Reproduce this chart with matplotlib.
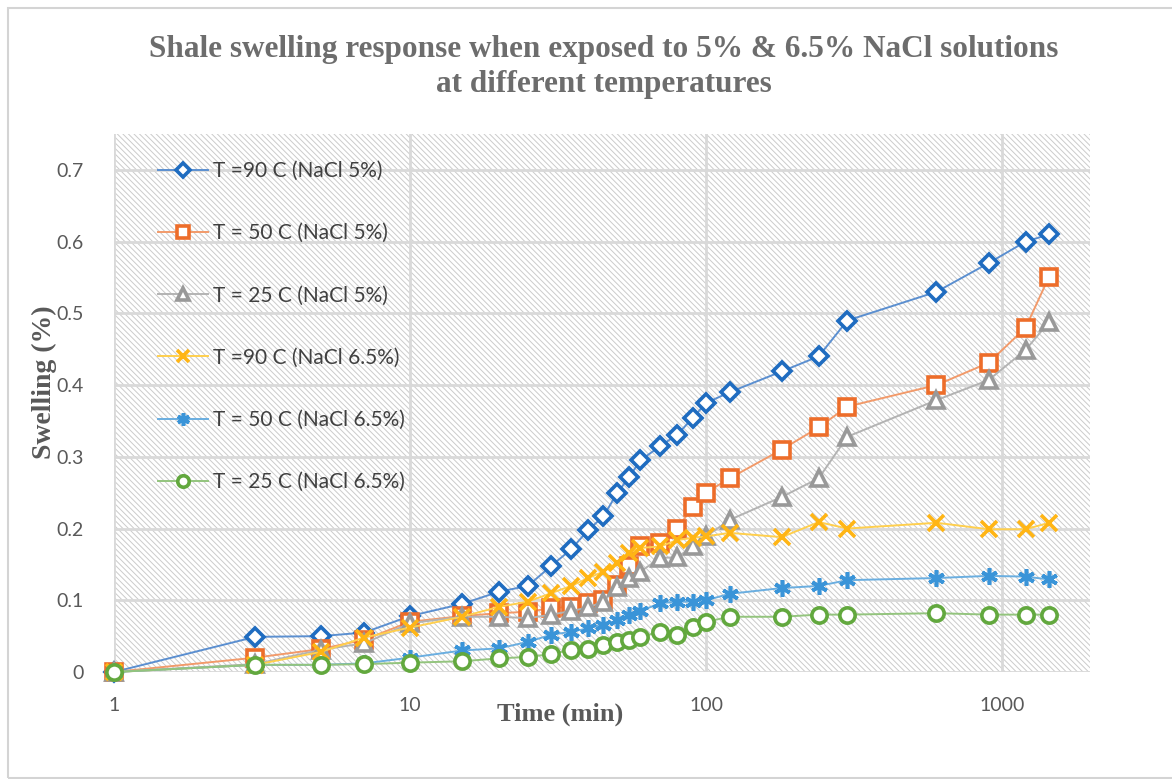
import matplotlib
matplotlib.use('Agg')
import matplotlib.pyplot as plt
from matplotlib.patches import Rectangle
import numpy as np

# sampling times (min)
time_min = [1, 3, 5, 7, 10, 15, 20, 25, 30, 35, 40, 45, 50, 55, 60, 70, 80, 90,
            100, 120, 180, 240, 300, 600, 900, 1200, 1440]

# swelling (%) for each temperature / brine
t90_nacl5 = [0, 0.049, 0.050, 0.055, 0.078, 0.095, 0.112, 0.120, 0.148, 0.171, 0.198,
             0.217, 0.249, 0.272, 0.295, 0.315, 0.331, 0.354, 0.375, 0.390, 0.419,
             0.440, 0.490, 0.530, 0.570, 0.600, 0.610]
t50_nacl5 = [0, 0.020, 0.032, 0.045, 0.070, 0.078, 0.082, 0.084, 0.089, 0.091, 0.096,
             0.100, 0.121, 0.148, 0.176, 0.180, 0.200, 0.230, 0.250, 0.270, 0.310,
             0.341, 0.370, 0.400, 0.431, 0.480, 0.551]
t25_nacl5 = [0, 0.011, 0.031, 0.040, 0.068, 0.077, 0.077, 0.075, 0.080, 0.085, 0.090,
             0.098, 0.119, 0.131, 0.140, 0.159, 0.160, 0.175, 0.189, 0.212, 0.244,
             0.270, 0.328, 0.379, 0.407, 0.449, 0.488]
t90_nacl65 = [0, 0.010, 0.028, 0.048, 0.062, 0.077, 0.091, 0.098, 0.110, 0.120, 0.131,
              0.140, 0.152, 0.166, 0.173, 0.175, 0.184, 0.187, 0.189, 0.194, 0.188,
              0.209, 0.200, 0.208, 0.199, 0.199, 0.208]
t50_nacl65 = [0, 0.010, 0.010, 0.012, 0.020, 0.030, 0.033, 0.042, 0.052, 0.056, 0.061,
              0.066, 0.072, 0.080, 0.085, 0.096, 0.098, 0.098, 0.100, 0.109, 0.117,
              0.120, 0.128, 0.131, 0.134, 0.133, 0.129]
t25_nacl65 = [0, 0.010, 0.010, 0.011, 0.013, 0.015, 0.019, 0.021, 0.025, 0.031, 0.032,
              0.038, 0.042, 0.044, 0.049, 0.056, 0.051, 0.063, 0.070, 0.077, 0.077,
              0.080, 0.080, 0.082, 0.080, 0.080, 0.080]

labels = ['T =90 C (NaCl 5%)', 'T = 50 C (NaCl 5%)', 'T = 25 C (NaCl 5%)',
          'T =90 C (NaCl 6.5%)', 'T = 50 C (NaCl 6.5%)', 'T = 25 C (NaCl 6.5%)']
series = [t90_nacl5, t50_nacl5, t25_nacl5, t90_nacl65, t50_nacl65, t25_nacl65]

# excel-like styling: line colour, marker colour, marker, size
styles = [
    ('#5b8fd0', '#1f6cc0', 'D', 9),
    ('#f29a6a', '#ed6d2a', 's', 11),
    ('#b3b3b3', '#999999', '^', 11),
    ('#ffcf4d', '#ffb515', 'x', 11),
    ('#6aaee0', '#3a94d8', (6, 2, 0), 12),
    ('#93c47d', '#62a83e', 'o', 11),
]

plt.rcParams['font.family'] = ['Lato', 'DejaVu Sans']
plt.rcParams['hatch.color'] = '#cbcbcb'
plt.rcParams['hatch.linewidth'] = 0.7

fig = plt.figure(figsize=(11.72, 7.79), dpi=100)
fig.patches.append(Rectangle((8 / 1172, 1 / 779), 1.2, (779 - 9) / 779,
                             transform=fig.transFigure, fill=False,
                             edgecolor='#d4d4d4', lw=1.5))

ax = fig.add_axes([114 / 1172, 1 - 672 / 779, (1090 - 114) / 1172, (672 - 134) / 779])

# patterned plot area
ax.add_patch(Rectangle((0, 0), 1, 1, transform=ax.transAxes, facecolor='white',
                       edgecolor='#cbcbcb', hatch='\\' * 6, lw=0, zorder=0))

for y, lab, (lc, mc, mk, ms) in zip(series, labels, styles):
    ax.plot(time_min, y, color=lc, lw=1.4, marker=mk, markersize=ms,
            markeredgecolor=mc, markerfacecolor='white' if mk not in ('x', (6, 2, 0)) else mc,
            markeredgewidth=2.6, label=lab, clip_on=False, zorder=3)

ax.set_xscale('log')
ax.set_xlim(1, 1980)
ax.set_ylim(0, 0.75)
ax.set_yticks(np.arange(0, 0.71, 0.1))
ax.set_yticklabels(['0', '0.1', '0.2', '0.3', '0.4', '0.5', '0.6', '0.7'])
ax.set_xticks([1, 10, 100, 1000])
ax.set_xticklabels(['1', '10', '100', '1000'])
ax.xaxis.set_minor_locator(matplotlib.ticker.NullLocator())
ax.tick_params(length=0, labelsize=14, labelcolor='#595959')
ax.tick_params(axis='y', pad=22)
ax.tick_params(axis='x', pad=18)

ax.set_axisbelow(True)
ax.grid(True, color='#d9d9d9', lw=2)
for s in ax.spines.values():
    s.set_visible(False)

serif = ['Liberation Serif', 'DejaVu Serif']
fig.text(44 / 1172, 1 - 382 / 779, 'Swelling (%)', family=serif, fontweight='bold',
         fontsize=20, color='#595959', ha='center', va='center', rotation=90)
fig.text(560 / 1172, 1 - 714 / 779, 'Time (min)', family=serif, fontweight='bold',
         fontsize=19, color='#595959', ha='center', va='center')

fig.text(604 / 1172, 1 - 67 / 779,
         'Shale swelling response when exposed to 5% & 6.5% NaCl solutions\nat different temperatures',
         family=serif, fontweight='bold', fontsize=22.5, color='#6d6d6d',
         ha='center', va='center', linespacing=1.3)

leg = ax.legend(loc='upper left', bbox_to_anchor=(0.045, 0.95), frameon=False,
                fontsize=15, handlelength=2.4, handletextpad=0.25, labelspacing=2.03,
                borderaxespad=0, borderpad=0, markerscale=0.75)
for t in leg.get_texts():
    t.set_color('#404040')

fig.savefig('out.png', dpi=100)
